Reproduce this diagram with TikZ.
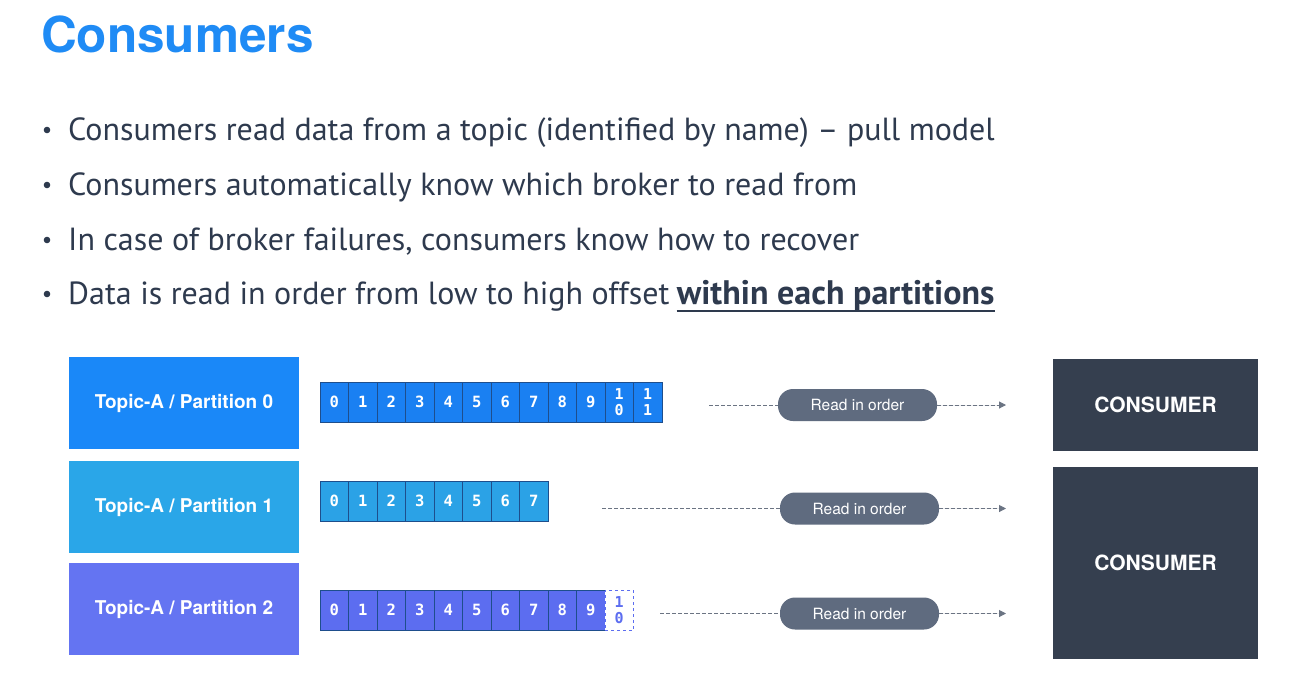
\documentclass[tikz,border=0pt]{standalone}
\usepackage{fontspec}
\setmainfont{PT Sans}
\newfontfamily\headfont{TeX Gyre Heros}
\newfontfamily\cellfont{DejaVu Sans Mono}
\usetikzlibrary{arrows.meta}
\definecolor{titleblue}{HTML}{1F8BF5}
\definecolor{bodytext}{HTML}{2E3A4E}
\definecolor{pzero}{HTML}{1A88F8}
\definecolor{pzerocell}{HTML}{1A80F2}
\definecolor{pone}{HTML}{2AA6E8}
\definecolor{ponecell}{HTML}{2BA2E6}
\definecolor{ptwo}{HTML}{6474F2}
\definecolor{ptwocell}{HTML}{5C6DF0}
\definecolor{cellline}{HTML}{1E4E8C}
\definecolor{pillgray}{HTML}{5F6B7F}
\definecolor{linegray}{HTML}{6B7483}
\definecolor{consumerbg}{HTML}{353F4F}
\tikzset{
  partbox/.style={minimum width=230pt, minimum height=92pt, inner sep=0pt,
    text=white, font=\headfont\bfseries\fontsize{19}{22}\selectfont},
  cellbox/.style={draw=cellline, line width=0.8pt, minimum width=28.5pt,
    minimum height=40pt, inner sep=0pt, text=white,
    font=\cellfont\bfseries\fontsize{15.5}{18}\selectfont},
  twodigit/.style={align=center, font=\cellfont\bfseries\fontsize{15}{16.5}\selectfont},
  pill/.style={rounded corners=15pt, fill=pillgray, minimum width=159pt,
    minimum height=32pt, inner sep=0pt, text=white,
    font=\headfont\fontsize{15.5}{18}\selectfont},
  flow/.style={draw=linegray, line width=1pt, dash pattern=on 3.5pt off 2.5pt},
  consumerbox/.style={fill=consumerbg, minimum width=205pt, inner sep=0pt,
    text=white, font=\headfont\bfseries\fontsize{21}{24}\selectfont},
  bullet/.style={anchor=base west, inner sep=0pt, text=bodytext,
    font=\fontsize{32}{38}\selectfont},
}
\begin{document}
\begin{tikzpicture}[x=1pt, y=-1pt]
\useasboundingbox[fill=white] (0,0) rectangle (1297,673);

% heading
\node[anchor=base west, inner sep=0pt, text=titleblue,
  font=\headfont\bfseries\fontsize{49.5}{56}\selectfont] (title) at (41,52) {Consumers};

% bullet list
\foreach \y/\txt [count=\i] in {
  140/{Consumers read data from a topic (identified by name) -- pull model},
  195/{Consumers automatically know which broker to read from},
  250/{In case of broker failures, consumers know how to recover}} {
  \node[bullet] (b\i) at (68,\y) {\txt};
  \fill[bodytext] (47,\y-10) circle (3.3pt);
}
\node[bullet] (b4) at (68,304) {Data is read in order from low to high offset};
\node[bullet, font=\bfseries\fontsize{34}{38}\selectfont]
  (b4b) at ([xshift=7pt]b4.base east) {within each partitions};
\fill[bodytext] (47,294) circle (3.3pt);
\draw[bodytext, line width=1.8pt] ([yshift=-7pt]b4b.base west) -- ([yshift=-7pt]b4b.base east);

% partitions
\node[partbox, fill=pzero] (p0) at (184,403) {Topic-A / Partition 0};
\node[partbox, fill=pone]  (p1) at (184,507) {Topic-A / Partition 1};
\node[partbox, fill=ptwo]  (p2) at (184,609) {Topic-A / Partition 2};

% offsets of partition 0
\foreach \k in {0,...,9}
  \node[cellbox, fill=pzerocell] (r0c\k) at (334.25+28.5*\k,402) {\k};
\node[cellbox, fill=pzerocell, twodigit] (r0c10) at (334.25+285,402) {1\\0};
\node[cellbox, fill=pzerocell, twodigit] (r0c11) at (334.25+313.5,402) {1\\1};

% offsets of partition 1
\foreach \k in {0,...,7}
  \node[cellbox, fill=ponecell] (r1c\k) at (334.25+28.5*\k,501) {\k};

% offsets of partition 2
\foreach \k in {0,...,9}
  \node[cellbox, fill=ptwocell] (r2c\k) at (334.25+28.5*\k,610) {\k};
\node[cellbox, fill=white, draw=ptwocell, dashed, text=ptwocell, twodigit]
  (r2c10) at (334.25+285,610) {1\\0};

% reading
\node[pill] (read0) at (857.5,405) {Read in order};
\node[pill] (read1) at (859.5,508.5) {Read in order};
\node[pill] (read2) at (859.5,613.5) {Read in order};

\coordinate (s0) at (709,405);
\coordinate (s1) at (602,508.5);
\coordinate (s2) at (660,613.5);
\coordinate (e0) at (1006,405);
\coordinate (e1) at (1006,508.5);
\coordinate (e2) at (1006,613.5);
\foreach \i in {0,1,2} {
  \draw[flow] (s\i) -- (read\i.west);
  \draw[flow, -{Triangle[length=7pt,width=7pt]}, fill=linegray] (read\i.east) -- (e\i);
}

% consumers
\node[consumerbox, minimum height=92pt] (cons0) at (1155.5,405) {CONSUMER};
\node[consumerbox, minimum height=192pt] (cons1) at (1155.5,563) {CONSUMER};
\end{tikzpicture}
\end{document}
